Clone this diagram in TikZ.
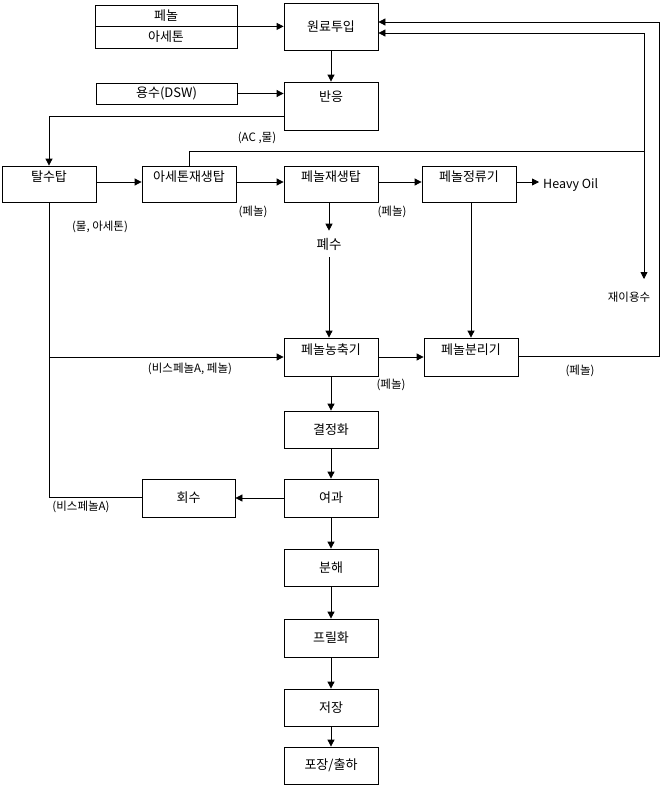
\documentclass[tikz,border=0pt]{standalone}
\usepackage{fontspec}
\setmainfont{Noto Sans CJK KR}
\usetikzlibrary{arrows.meta}
\begin{document}
\begin{tikzpicture}[x=1pt,y=-1pt,
  box/.style={draw, line width=0.8pt, rectangle, inner sep=0pt, minimum width=94pt, font=\fontsize{13}{15}\selectfont},
  raised/.style={text height=11pt, text depth=15.2pt},
  lbl/.style={font=\fontsize{11.5}{13}\selectfont, inner sep=0pt},
  arr/.style={-{Triangle[length=7pt,width=7pt]}},
  ln/.style={line width=0.8pt}
]
\useasboundingbox (0,0) rectangle (662,787);
% boxes
\node[box, minimum width=142pt, minimum height=21pt] (ph) at (166,15.5) {페놀};
\node[box, minimum width=142pt, minimum height=22pt] (ac) at (166,37) {아세톤};
\node[box, minimum height=47pt] (raw) at (331,26.5) {원료투입};
\node[box, minimum width=141pt, minimum height=21pt] (dsw) at (166.5,93.5) {용수(DSW)};
\node[box, minimum height=48pt, text height=11pt, text depth=19.2pt] (rxn) at (331,106) {반응};
\node[box, raised, minimum height=36pt] (dehyd) at (49,184) {탈수탑};
\node[box, raised, minimum height=36pt] (acet) at (189,184) {아세톤재생탑};
\node[box, raised, minimum height=36pt] (phre) at (331,184) {페놀재생탑};
\node[box, raised, minimum height=36pt] (phrf) at (469,184) {페놀정류기};
\node[font=\fontsize{12.5}{14}\selectfont, anchor=west, inner xsep=4pt, inner ysep=0pt] (heavy) at (539,185) {Heavy Oil};
\node[font=\fontsize{13.5}{15}\selectfont, inner xsep=0pt, inner ysep=7pt] (waste) at (329,244) {폐수};
\node[box, raised, minimum height=38pt] (conc) at (331,357) {페놀농축기};
\node[box, raised, minimum height=38pt] (sep) at (471,357) {페놀분리기};
\node[box, minimum height=37pt] (cryst) at (331,429.5) {결정화};
\node[box, minimum height=38pt] (filt) at (331,498) {여과};
\node[box, minimum width=93pt, minimum height=38pt] (rec) at (188.5,498) {회수};
\node[box, minimum height=37pt] (decomp) at (331,567.5) {분해};
\node[box, minimum height=38pt] (prill) at (331,638) {프릴화};
\node[box, minimum height=37pt] (store) at (331,707.5) {저장};
\node[box, minimum height=37pt] (pack) at (331,765.5) {포장/출하};
% labels
\node[lbl] (l1) at (257,138) {(AC ,물)};
\node[lbl] (l2) at (100,227) {(물, 아세톤)};
\node[lbl] (l3) at (253,212) {(페놀)};
\node[lbl] (l4) at (392,212) {(페놀)};
\node[lbl] (l5) at (190,369) {(비스페놀A, 페놀)};
\node[lbl] (l6) at (391,385) {(페놀)};
\node[lbl] (l7) at (580,371) {(페놀)};
\node[lbl] (l8) at (81,507) {(비스페놀A)};
\node[lbl] (reuse) at (629,297) {재이용수};
% helper coordinates
\coordinate (r) at (0,182);
\coordinate (c1) at (49,116);
\coordinate (k1) at (644,151);
\coordinate (k2) at (644,33);
\coordinate (k3) at (644,279);
\coordinate (m1) at (659,356);
\coordinate (m2) at (659,22);
\coordinate (b1) at (49,497);
% connectors
\draw[ln,arr] (ph.south east) -- (ph.south east -| raw.west);
\draw[ln,arr] (dsw.east) -- (dsw.east -| rxn.west);
\draw[ln,arr] (raw.south) -- (rxn.north);
\draw[ln,arr] (rxn.west |- c1) -- (c1) -- (dehyd.north);
\draw[ln,arr] (dehyd.east |- r) -- (acet.west |- r);
\draw[ln,arr] (acet.east |- r) -- (phre.west |- r);
\draw[ln,arr] (phre.east |- r) -- (phrf.west |- r);
\draw[ln,arr] (phrf.east |- r) -- (heavy.west |- r);
\draw[ln] (acet.north) |- (k1);
\draw[ln,arr] (k2) -- (raw.east |- k2);
\draw[ln,arr] (k2) -- (k3);
\draw[ln,arr] (sep.east |- m1) -- (m1) -- (m2) -- (raw.east |- m2);
\draw[ln,arr] (waste.north |- phre.south) -- (waste.north);
\draw[ln,arr] (waste.south) -- (waste.south |- conc.north);
\draw[ln,arr] (sep.north |- phrf.south) -- (sep.north);
\draw[ln] (dehyd.south) -- (b1) -- (rec.west |- b1);
\draw[ln,arr] (dehyd.south |- conc.west) -- (conc.west);
\draw[ln,arr] (conc.east) -- (sep.west);
\draw[ln,arr] (conc.south) -- (cryst.north);
\draw[ln,arr] (cryst.south) -- (filt.north);
\draw[ln,arr] (filt.west) -- (rec.east);
\draw[ln,arr] (filt.south) -- (decomp.north);
\draw[ln,arr] (decomp.south) -- (prill.north);
\draw[ln,arr] (prill.south) -- (store.north);
\draw[ln,arr] (store.south) -- (pack.north);
\end{tikzpicture}
\end{document}
